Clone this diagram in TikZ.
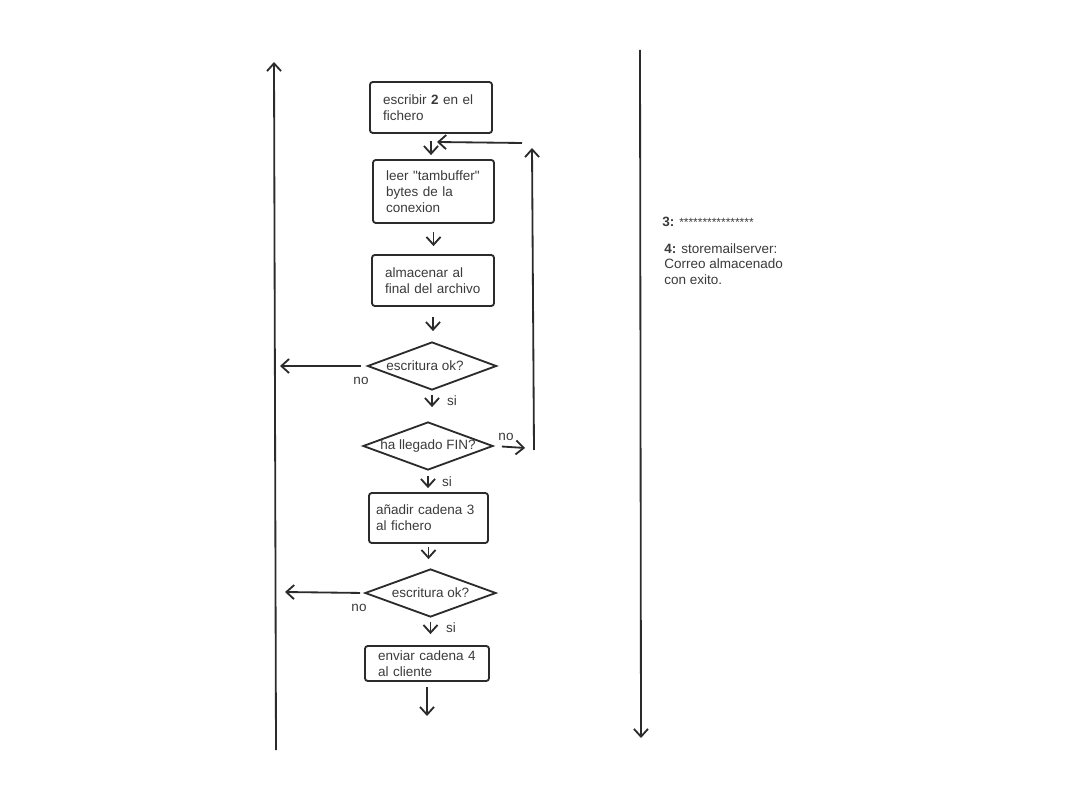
\documentclass[tikz,border=0pt]{standalone}
\usepackage{fontspec}
\setmainfont{Liberation Sans}
\usetikzlibrary{arrows.meta,shapes.geometric}
\definecolor{linea}{HTML}{2B2B2B}
\definecolor{texto}{HTML}{3A3A3A}
\tikzset{
  flecha/.style={draw=linea, line width=1.3pt, -{Straight Barb[length=5.5pt,width=10pt]}},
  caja/.style={draw=linea, line width=1.3pt, rounded corners=2pt, align=left, text=texto, inner xsep=0.33cm, inner ysep=0pt},
  pregunta/.style={diamond, draw=linea, line width=1.3pt, aspect=2.7, inner sep=0pt, text=texto},
  etiqueta/.style={text=texto, inner sep=0pt}
}
\begin{document}
\begin{tikzpicture}[x=0.025cm, y=-0.025cm, font=\fontsize{9.6}{11.3}\selectfont]
            \useasboundingbox (0,0) rectangle (1066,800);

            % cajas y preguntas
            \node[caja, text width=2.39cm, minimum height=1.275cm] (b1) at (431,107.5) {escribir \textbf{2} en el\\fichero};
            \node[caja, text width=2.365cm, minimum height=1.575cm] (b2) at (433.5,191.5) {leer \textquotedbl tambuffer\textquotedbl\\bytes de la\\conexion};
            \node[caja, text width=2.39cm, minimum height=1.275cm] (b3) at (433,280.5) {almacenar al\\final del archivo};
            \node[pregunta, minimum width=3.225cm, minimum height=1.2cm] (d1) at (432,366) {\hspace*{-0.35cm}escritura ok?};
            \node[pregunta, minimum width=3.25cm, minimum height=1.2cm] (d2) at (428,446) {ha llegado FIN?};
            \node[caja, inner xsep=0.18cm, text width=2.615cm, minimum height=1.25cm] (b4) at (428.5,518) {añadir cadena 3\\al fichero};
            \node[pregunta, minimum width=3.275cm, minimum height=1.2cm] (d3) at (430.5,593) {escritura ok?};
            \node[caja, text width=2.44cm, minimum height=0.875cm] (b5) at (427,663.5) {enviar cadena 4\\al cliente};

            % flechas cortas hacia abajo
            \foreach \a/\b/\s/\e in {b1/b2/0.175/0.1, b2/b3/0.2/0.2, b3/d1/0.25/0.25, d1/d2/0.1/0.35,
                                     d2/b4/0.125/0.1, b4/d3/0.075/0.225, d3/b5/0.1/0.275}
                {
                    \draw[flecha, shorten <=\s cm, shorten >=\e cm] (\a.south) -- (\a.south |- \b.north);
                }
            \coordinate (fin) at (b5.south |- 0,716);
            \draw[flecha, shorten <=0.125cm] (b5.south) -- (fin);

            % salidas "no"
            \coordinate (salida1) at (280,366);
            \coordinate (salida2) at (285,592);
            \draw[flecha, shorten <=0.15cm] (d1.west) -- (salida1);
            \draw[flecha, shorten <=0.1cm] (d3.west) -- (salida2);

            % vuelta al bucle
            \coordinate (lazo) at (525,448);
            \coordinate (lazoA) at (534,450);
            \coordinate (lazoB) at (532,148);
            \coordinate (lazoC) at (522,143);
            \coordinate (entrada) at (437,142);
            \draw[flecha, shorten <=0.2cm] (d2.east) -- (lazo);
            \draw[flecha] (lazoA) -- (lazoB);
            \draw[flecha] (lazoC) -- (entrada);

            % etiquetas
            \node[etiqueta] (no1) at (361,381) {no};
            \node[etiqueta] (si1) at (452,401) {si};
            \node[etiqueta] (no2) at (506,437) {no};
            \node[etiqueta] (si2) at (447,482) {si};
            \node[etiqueta] (no3) at (359,608) {no};
            \node[etiqueta] (si3) at (451,628) {si};

            % lineas de vida
            \coordinate (izqA) at (276,750);
            \coordinate (izqB) at (274,62);
            \coordinate (derA) at (640,50);
            \coordinate (derB) at (641,738);
            \draw[flecha] (izqA) -- (izqB);
            \draw[flecha] (derA) -- (derB);

            % notas
            \node[etiqueta, anchor=west] (nota3) at (662,222) {\textbf{3:} {\fontsize{8.5}{10}\selectfont ****************}};
            \node[etiqueta, anchor=north west, align=left] (nota4) at (664,243) {\textbf{4:} storemailserver:\\Correo almacenado\\con exito.};
        \end{tikzpicture}
\end{document}
